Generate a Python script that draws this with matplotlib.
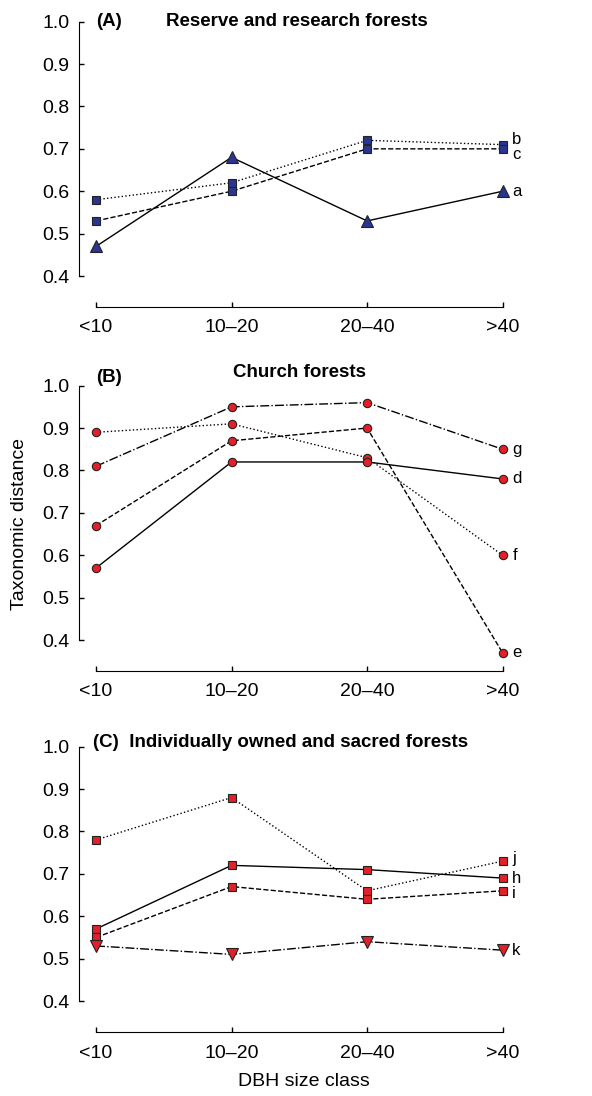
import numpy as np
import matplotlib.pyplot as plt

plt.rcParams['font.family'] = ['Liberation Sans', 'DejaVu Sans']

clases = ['<10', '10\u201320', '20\u201340', '>40']

# (A) Reserve and research forests
a_vals = [0.47, 0.68, 0.53, 0.60]
b_vals = [0.58, 0.62, 0.72, 0.71]
c_vals = [0.53, 0.60, 0.70, 0.70]
# (B) Church forests
d_vals = [0.57, 0.82, 0.82, 0.78]
e_vals = [0.67, 0.87, 0.90, 0.37]
f_vals = [0.89, 0.91, 0.83, 0.60]
g_vals = [0.81, 0.95, 0.96, 0.85]
# (C) Individually owned and sacred forests
h_vals = [0.57, 0.72, 0.71, 0.69]
i_vals = [0.55, 0.67, 0.64, 0.66]
j_vals = [0.78, 0.88, 0.66, 0.73]
k_vals = [0.53, 0.51, 0.54, 0.52]

azul = '#2a3590'
rojo = '#e3202a'

W, H = 592, 1096
fig = plt.figure(figsize=(W / 100, H / 100), dpi=100)

y0, y1 = 0.327, 1.02
x0, x1 = -0.126, 3.2
px_left = 79
px_right = px_left + (x1 - x0) * 135.5

def hacer_eje(bottom_px):
    altura = (y1 - y0) * 424
    ax = fig.add_axes([px_left / W, 1 - bottom_px / H,
                       (px_right - px_left) / W, altura / H])
    ax.set_xlim(x0, x1)
    ax.set_ylim(y0, y1)
    for s in ['top', 'right']:
        ax.spines[s].set_visible(False)
    ax.spines['left'].set_bounds(0.4, 1.0)
    ax.spines['bottom'].set_bounds(0, 3)
    ax.set_xticks(range(4))
    ax.set_xticklabels(clases)
    ax.set_yticks(np.arange(0.4, 1.01, 0.1))
    ax.set_yticklabels(['%.1f' % v for v in np.arange(0.4, 1.01, 0.1)])
    ax.tick_params(labelsize=14, length=3.5, width=1, direction='in', pad=7)
    ax.tick_params(axis='x', pad=9)
    ax.patch.set_alpha(0)
    return ax

def serie(ax, vals, ls, marker, color, ms, etiqueta, dy=0):
    ax.plot(range(4), vals, color='black', ls=ls, lw=1.0, marker=marker,
            ms=ms, mfc=color, mec='#222222', mew=0.8)
    ax.annotate(etiqueta, (3, vals[-1]), xytext=(7, dy), textcoords='offset points',
                ha='left', va='center', fontsize=12)

ax1 = hacer_eje(307)
serie(ax1, b_vals, ':', 's', azul, 5.5, 'b', 4)
serie(ax1, c_vals, '--', 's', azul, 5.5, 'c', -4)
serie(ax1, a_vals, '-', '^', azul, 8, 'a')
ax1.text(0.0, 1.0, '(A)', fontsize=13.5, fontweight='bold', va='center', ha='left')
ax1.text(1.48, 1.0, 'Reserve and research forests', fontsize=13.5, fontweight='bold',
         va='center', ha='center')

ax2 = hacer_eje(671)
serie(ax2, g_vals, '-.', 'o', rojo, 6, 'g')
serie(ax2, f_vals, ':', 'o', rojo, 6, 'f')
serie(ax2, e_vals, '--', 'o', rojo, 6, 'e')
serie(ax2, d_vals, '-', 'o', rojo, 6, 'd')
ax2.text(0.0, 1.02, '(B)', fontsize=13.5, fontweight='bold', va='center', ha='left')
ax2.text(1.5, 1.03, 'Church forests', fontsize=13.5, fontweight='bold',
         va='center', ha='center')
ax2.set_ylabel('Taxonomic distance', fontsize=14, labelpad=10)

ax3 = hacer_eje(1032)
serie(ax3, j_vals, ':', 's', rojo, 5.5, 'j', 2)
serie(ax3, h_vals, '-', 's', rojo, 5.5, 'h')
serie(ax3, i_vals, '--', 's', rojo, 5.5, 'i', -2)
serie(ax3, k_vals, '-.', 'v', rojo, 8, 'k')
ax3.text(-0.02, 1.01, '(C)  Individually owned and sacred forests', fontsize=13.5,
         fontweight='bold', va='center', ha='left')
ax3.set_xlabel('DBH size class', fontsize=14, labelpad=8)

fig.savefig('out.png', dpi=100)
